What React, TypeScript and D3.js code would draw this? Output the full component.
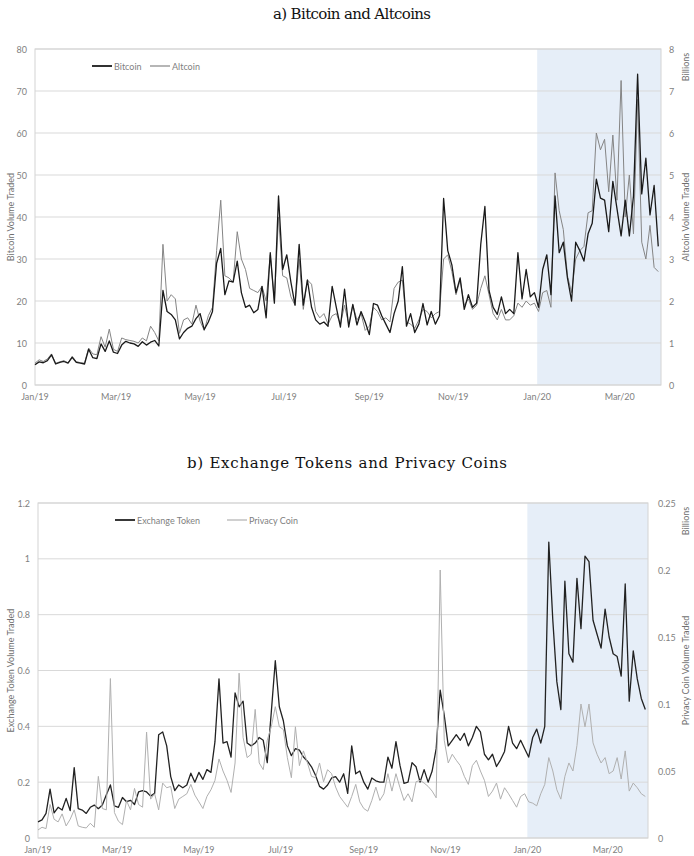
import * as d3 from "d3";

// daily volumes sampled every 3 days, Jan 1 2019 .. Mar 29 2020
const START = new Date(2019, 0, 1);
const END = new Date(2020, 2, 31);
const SHADE_START = new Date(2020, 0, 1);
const STEP_DAYS = 3;

// Bitcoin volume traded (left axis)
const bitcoin = [
  4.8, 5.5, 5.3, 5.8, 7.2, 5.0, 5.4, 5.6, 5.2, 6.6,
  5.4, 5.2, 5.0, 8.5, 6.5, 6.3, 9.8, 8.0, 10.5, 7.8,
  7.5, 9.5, 10.4, 10.0, 9.8, 9.2, 10.3, 9.5, 10.2, 10.6,
  9.3, 22.5, 17.5, 16.8, 15.5, 11.0, 12.5, 13.5, 14.0, 15.8,
  17.0, 13.2, 15.0, 17.5, 29.0, 32.5, 21.5, 24.8, 24.5, 29.5,
  22.0, 18.5, 19.0, 17.2, 18.0, 23.5, 16.0, 31.5, 19.5, 45.0,
  27.5, 31.0, 24.5, 19.0, 33.5, 19.0, 25.0, 18.5, 15.5, 14.5,
  15.0, 14.0, 23.5, 18.5, 13.8, 22.8, 13.8, 19.2, 14.3, 17.5,
  15.0, 12.0, 19.4, 19.0, 16.5, 14.5, 12.5, 17.0, 20.0, 28.2,
  14.0, 17.0, 12.5, 14.5, 19.4, 14.3, 17.5, 14.5, 16.5, 44.4,
  32.0, 28.6, 22.0, 25.5, 18.0, 21.5, 18.5, 19.5, 33.5, 42.5,
  22.5, 18.5, 16.8, 21.0, 17.0, 18.0, 17.0, 31.5, 20.5, 27.5,
  21.0, 22.0, 18.5, 27.5, 31.0, 21.5, 45.0, 31.5, 34.0, 25.5,
  20.0, 34.0, 32.0, 29.5, 36.0, 38.5, 49.0, 44.5, 44.0, 36.5,
  48.5, 42.0, 35.5, 44.0, 35.5, 45.0, 74.0, 45.5, 54.0, 40.5,
  47.5, 33.0,
];

// Altcoin volume traded, billions (right axis)
const altcoin = [
  0.52, 0.6, 0.56, 0.62, 0.74, 0.52, 0.55, 0.58, 0.53, 0.68,
  0.56, 0.53, 0.52, 0.88, 0.74, 0.72, 1.15, 0.9, 1.33, 0.85,
  0.8, 1.12, 1.08, 1.06, 1.04, 1.0, 1.12, 1.05, 1.4, 1.25,
  1.05, 3.35, 2.0, 2.15, 2.05, 1.23, 1.55, 1.6, 1.45, 1.9,
  1.52, 1.3, 1.65, 1.85, 3.2, 4.4, 2.6, 2.55, 2.45, 3.65,
  3.0, 2.75, 2.3, 2.25, 2.2, 2.35, 2.0, 3.1, 2.0, 4.0,
  2.6, 2.55, 2.1, 1.9, 3.0, 1.8, 2.5, 2.4, 1.75, 1.6,
  1.7, 1.45, 1.65, 1.7, 1.45, 1.9, 1.45, 1.9, 1.55, 1.7,
  1.3, 1.4, 1.85, 1.75, 1.55, 1.6, 1.5, 2.3, 2.45, 2.5,
  1.5, 1.45, 1.35, 1.55, 1.8, 1.75, 1.6, 1.7, 1.75, 3.0,
  3.1, 2.7, 2.15, 2.5, 1.9, 2.05, 1.8, 1.9, 2.3, 2.6,
  2.15, 1.7, 1.55, 1.8, 1.55, 1.55, 1.65, 1.95, 1.85, 2.0,
  1.9, 1.95, 1.75, 2.2, 2.25, 1.85, 5.05, 4.15, 3.7, 2.6,
  2.2, 3.0, 3.2, 3.3, 4.1, 4.15, 6.0, 5.6, 5.85, 4.6,
  5.95, 4.4, 7.25, 4.0, 5.0, 3.6, 6.8, 3.4, 3.0, 3.8,
  2.8, 2.7,
];

// Exchange token volume traded (left axis)
const exchangeToken = [
  0.058, 0.065, 0.088, 0.175, 0.09, 0.11, 0.1, 0.142, 0.098, 0.252,
  0.105, 0.1, 0.088, 0.11, 0.118, 0.105, 0.118, 0.155, 0.19, 0.115,
  0.11, 0.145, 0.13, 0.135, 0.12, 0.165, 0.17, 0.165, 0.15, 0.16,
  0.37, 0.38, 0.33, 0.22, 0.17, 0.19, 0.18, 0.19, 0.232, 0.2,
  0.235, 0.21, 0.245, 0.235, 0.345, 0.57, 0.34, 0.345, 0.29, 0.52,
  0.47, 0.49, 0.34, 0.33, 0.34, 0.36, 0.35, 0.27, 0.45, 0.635,
  0.47, 0.42, 0.33, 0.295, 0.32, 0.315, 0.29, 0.275, 0.255, 0.225,
  0.185, 0.175, 0.19, 0.215, 0.22, 0.2, 0.23, 0.16, 0.33, 0.23,
  0.24, 0.2, 0.175, 0.215, 0.205, 0.2, 0.2, 0.29, 0.25, 0.345,
  0.26, 0.196, 0.2, 0.27, 0.255, 0.2, 0.245, 0.2, 0.24, 0.32,
  0.53, 0.44, 0.33, 0.35, 0.37, 0.35, 0.375, 0.33, 0.36, 0.4,
  0.38, 0.3, 0.28, 0.3, 0.256, 0.28, 0.31, 0.4, 0.34, 0.32,
  0.35, 0.32, 0.29, 0.36, 0.39, 0.34, 0.4, 1.06, 0.78, 0.56,
  0.46, 0.92, 0.66, 0.63, 0.93, 0.75, 1.01, 0.99, 0.78, 0.73,
  0.68, 0.82, 0.72, 0.66, 0.65, 0.58, 0.91, 0.49, 0.67, 0.57,
  0.5, 0.46,
];

// Privacy coin volume traded, billions (right axis)
const privacyCoin = [
  0.006, 0.008, 0.007, 0.025, 0.014, 0.012, 0.018, 0.009, 0.014, 0.021,
  0.009, 0.008, 0.0075, 0.011, 0.008, 0.046, 0.022, 0.021, 0.119, 0.019,
  0.0125, 0.01, 0.028, 0.021, 0.037, 0.025, 0.023, 0.079, 0.029, 0.033,
  0.021, 0.041, 0.0375, 0.0385, 0.022, 0.029, 0.031, 0.033, 0.04, 0.032,
  0.027, 0.022, 0.031, 0.036, 0.043, 0.059, 0.05, 0.043, 0.034, 0.056,
  0.123, 0.075, 0.06, 0.0625, 0.096, 0.056, 0.051, 0.073, 0.083, 0.098,
  0.083, 0.081, 0.06, 0.045, 0.083, 0.054, 0.065, 0.056, 0.046, 0.045,
  0.056, 0.042, 0.051, 0.048, 0.038, 0.031, 0.027, 0.023, 0.031, 0.04,
  0.027, 0.022, 0.02, 0.028, 0.038, 0.028, 0.033, 0.048, 0.035, 0.048,
  0.0375, 0.028, 0.033, 0.027, 0.042, 0.043, 0.041, 0.0385, 0.035, 0.03,
  0.2, 0.073, 0.056, 0.0625, 0.058, 0.054, 0.046, 0.04, 0.054, 0.058,
  0.05, 0.043, 0.031, 0.035, 0.041, 0.029, 0.0375, 0.033, 0.028, 0.023,
  0.031, 0.033, 0.027, 0.026, 0.024, 0.033, 0.04, 0.06, 0.05, 0.036,
  0.029, 0.046, 0.056, 0.05, 0.069, 0.1, 0.083, 0.1, 0.071, 0.0625,
  0.056, 0.06, 0.048, 0.05, 0.06, 0.044, 0.065, 0.035, 0.041, 0.0375,
  0.033, 0.031,
];

const bitcoinTicks = [0, 10, 20, 30, 40, 50, 60, 70, 80];
const altcoinTicks = [0, 1, 2, 3, 4, 5, 6, 7, 8];
const exchangeTicks = [0, 0.2, 0.4, 0.6, 0.8, 1, 1.2];
const privacyTicks = [0, 0.05, 0.1, 0.15, 0.2, 0.25];

const dates = bitcoin.map((_, i) => d3.timeDay.offset(START, i * STEP_DAYS));

const SANS = "Lato, 'Open Sans', sans-serif";
const TICK = "#7f7f7f";

type PanelProps = {
  title: string;
  titleY: number;
  titleLength: number;
  left: number;
  right: number;
  top: number;
  bottom: number;
  leftTicks: number[];
  rightTicks: number[];
  leftLabelX: number;
  rightLabelX: number;
  primary: number[];
  secondary: number[];
  primaryName: string;
  secondaryName: string;
  primaryColor: string;
  secondaryColor: string;
  leftTitle: string;
  rightTitle: string;
  legendX: [number, number];
  secondaryOnTop: boolean;
};

function Panel(p: PanelProps) {
  const x = d3.scaleTime().domain([START, END]).range([p.left, p.right]);
  const yL = d3
    .scaleLinear()
    .domain([0, p.leftTicks[p.leftTicks.length - 1]])
    .range([p.bottom, p.top]);
  const yR = d3
    .scaleLinear()
    .domain([0, p.rightTicks[p.rightTicks.length - 1]])
    .range([p.bottom, p.top]);

  const linePrimary = d3
    .line<number>()
    .x((_, i) => x(dates[i]))
    .y((d) => yL(d));
  const lineSecondary = d3
    .line<number>()
    .x((_, i) => x(dates[i]))
    .y((d) => yR(d));

  const xTicks = x.ticks(d3.timeMonth.every(2)!);
  const fmt = d3.timeFormat("%b/%y");
  const midY = (p.top + p.bottom) / 2;
  const legY = p.top + 17;

  const prim = (
    <path
      d={linePrimary(p.primary) ?? ""}
      fill="none"
      stroke={p.primaryColor}
      strokeWidth={1.3}
      strokeLinejoin="round"
    />
  );
  const sec = (
    <path
      d={lineSecondary(p.secondary) ?? ""}
      fill="none"
      stroke={p.secondaryColor}
      strokeWidth={1}
      strokeLinejoin="round"
    />
  );

  return (
    <g>
      <text
        x={(p.left + p.right) / 2 + 4}
        y={p.titleY}
        textAnchor="middle"
        fontFamily="'DejaVu Serif', serif"
        fontSize={15}
        fill="#111"
        textLength={p.titleLength}
        lengthAdjust="spacing"
      >
        {p.title}
      </text>

      <rect
        x={x(SHADE_START)}
        y={p.top}
        width={p.right - x(SHADE_START)}
        height={p.bottom - p.top}
        fill="#e6eef8"
      />
      {p.leftTicks.map((t) => (
        <line
          key={t}
          x1={p.left}
          x2={p.right}
          y1={yL(t)}
          y2={yL(t)}
          stroke="#d9d9d9"
          strokeWidth={1}
        />
      ))}
      <rect
        x={p.left}
        y={p.top}
        width={p.right - p.left}
        height={p.bottom - p.top}
        fill="none"
        stroke="#d4d4d4"
        strokeWidth={1}
      />

      {p.secondaryOnTop ? (
        <>
          {prim}
          {sec}
        </>
      ) : (
        <>
          {sec}
          {prim}
        </>
      )}

      <g fontFamily={SANS} fontSize={9} fill={TICK}>
        {p.leftTicks.map((t) => (
          <text key={t} x={p.leftLabelX} y={yL(t)} textAnchor="end" dominantBaseline="central">
            {t}
          </text>
        ))}
        {p.rightTicks.map((t) => (
          <text key={t} x={p.rightLabelX} y={yR(t)} dominantBaseline="central">
            {t}
          </text>
        ))}
        {xTicks.map((d) => (
          <text key={+d} x={x(d)} y={p.bottom + 15} textAnchor="middle">
            {fmt(d)}
          </text>
        ))}
      </g>

      <g fontFamily={SANS} fontSize={9} fill="#6f6f6f" textAnchor="middle">
        <text transform={`translate(10,${midY}) rotate(-90)`} dominantBaseline="central">
          {p.leftTitle}
        </text>
        <text transform={`translate(685,${midY}) rotate(-90)`} dominantBaseline="central">
          {p.rightTitle}
        </text>
        <text transform={`translate(685,${p.top + 18}) rotate(-90)`} dominantBaseline="central">
          Billions
        </text>
      </g>

      <g fontFamily={SANS} fontSize={9} fill={TICK}>
        <line
          x1={p.legendX[0]}
          x2={p.legendX[0] + 20}
          y1={legY}
          y2={legY}
          stroke={p.primaryColor}
          strokeWidth={1.8}
        />
        <text x={p.legendX[0] + 22} y={legY} dominantBaseline="central">
          {p.primaryName}
        </text>
        <line
          x1={p.legendX[1]}
          x2={p.legendX[1] + 20}
          y1={legY}
          y2={legY}
          stroke={p.secondaryColor}
          strokeWidth={1.2}
        />
        <text x={p.legendX[1] + 22} y={legY} dominantBaseline="central">
          {p.secondaryName}
        </text>
      </g>
    </g>
  );
}

export default function App() {
  return (
    <svg
      width={694}
      height={856}
      style={{ position: "absolute", left: 0, top: 0, background: "#fff" }}
    >
      <rect width={694} height={856} fill="#fff" />
      <Panel
        title="a) Bitcoin and Altcoins"
        titleY={19}
        titleLength={158}
        left={35}
        right={661}
        top={49}
        bottom={385}
        leftTicks={bitcoinTicks}
        rightTicks={altcoinTicks}
        leftLabelX={27}
        rightLabelX={669}
        primary={bitcoin}
        secondary={altcoin}
        primaryName="Bitcoin"
        secondaryName="Altcoin"
        primaryColor="#1a1a1a"
        secondaryColor="#858585"
        leftTitle="Bitcoin Volume Traded"
        rightTitle="Altcoin Volume Traded"
        legendX={[92, 150]}
        secondaryOnTop={false}
      />
      <Panel
        title="b) Exchange Tokens and Privacy Coins"
        titleY={468}
        titleLength={320}
        left={38}
        right={648}
        top={503}
        bottom={838}
        leftTicks={exchangeTicks}
        rightTicks={privacyTicks}
        leftLabelX={30}
        rightLabelX={658}
        primary={exchangeToken}
        secondary={privacyCoin}
        primaryName="Exchange Token"
        secondaryName="Privacy Coin"
        primaryColor="#222"
        secondaryColor="#b0b0b0"
        leftTitle="Exchange Token Volume Traded"
        rightTitle="Privacy Coin Volume Traded"
        legendX={[115, 227]}
        secondaryOnTop={true}
      />
    </svg>
  );
}
